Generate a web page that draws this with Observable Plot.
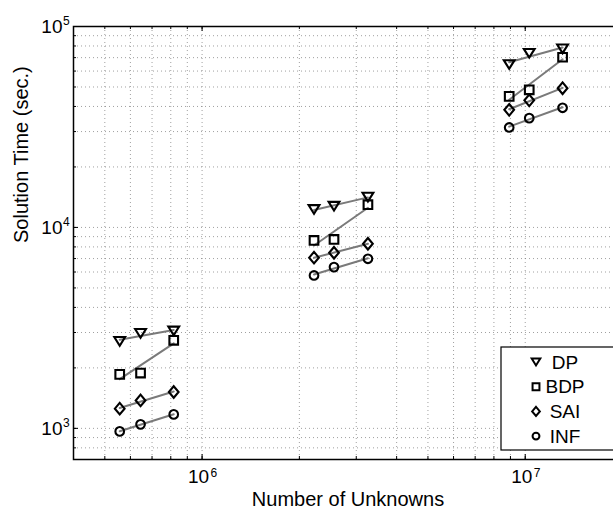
<!DOCTYPE html>
<html>
<head>
<meta charset="utf-8">
<script src="https://cdn.jsdelivr.net/npm/d3@7"></script>
<script src="https://cdn.jsdelivr.net/npm/@observablehq/plot@0.6"></script>
<style>
  html, body { margin: 0; padding: 0; background: #fff; overflow: hidden; }
  #chart svg { max-width: none !important; height: auto; display: block; }
</style>
</head>
<body>
<div id="chart"></div>
<script>
// Problem sizes (number of unknowns), three refinements per problem set
const unknowns = [5.56e5, 6.45e5, 8.17e5, 2.22e6, 2.56e6, 3.26e6, 8.92e6, 1.029e7, 1.305e7];
const problemSet = [1, 1, 1, 2, 2, 2, 3, 3, 3];

// Solution times (seconds) per preconditioner
const seriesNames = ["DP", "BDP", "SAI", "INF"];
const timeDP  = [2710, 2970, 3055, 12290, 12760, 14160, 64700, 73600, 77400];
const timeBDP = [1857, 1884, 2742, 8616, 8714, 12970, 44900, 48400, 70300];
const timeSAI = [1253, 1377, 1517, 7070, 7484, 8296, 38500, 42900, 49300];
const timeINF = [966, 1047, 1174, 5770, 6346, 6984, 31440, 34990, 39400];

// Axis ticks
const xMajor = [1e6, 1e7];
const xMinor = [4e5, 5e5, 6e5, 7e5, 8e5, 9e5, 1e6, 2e6, 3e6, 4e6, 5e6, 6e6, 7e6, 8e6, 9e6, 1e7, 2e7];
const yMajor = [1e3, 1e4, 1e5];
const yMinor = [700, 800, 900, 1e3, 2e3, 3e3, 4e3, 5e3, 6e3, 7e3, 8e3, 9e3,
                1e4, 2e4, 3e4, 4e4, 5e4, 6e4, 7e4, 8e4, 9e4, 1e5];

const xLabel = "Number of Unknowns";
const yLabel = "Solution Time (sec.)";

// Marker shapes (r = sqrt(size / PI))
const triDown = { draw(ctx, size) { const r = Math.sqrt(size / Math.PI);
  ctx.moveTo(-r, -0.8 * r); ctx.lineTo(r, -0.8 * r); ctx.lineTo(0, 0.8 * r); ctx.closePath(); } };
const square = { draw(ctx, size) { const r = Math.sqrt(size / Math.PI) * 0.8;
  ctx.moveTo(-r, -r); ctx.lineTo(r, -r); ctx.lineTo(r, r); ctx.lineTo(-r, r); ctx.closePath(); } };
const diamond = { draw(ctx, size) { const r = Math.sqrt(size / Math.PI);
  ctx.moveTo(0, -1.07 * r); ctx.lineTo(0.9 * r, 0); ctx.lineTo(0, 1.07 * r); ctx.lineTo(-0.9 * r, 0); ctx.closePath(); } };
const circle = { draw(ctx, size) { const r = Math.sqrt(size / Math.PI) * 0.8;
  ctx.moveTo(r, 0); ctx.arc(0, 0, r, 0, 2 * Math.PI); } };
const symbols = { DP: triDown, BDP: square, SAI: diamond, INF: circle };

const seriesTimes = { DP: timeDP, BDP: timeBDP, SAI: timeSAI, INF: timeINF };
const rows = seriesNames.flatMap(s => unknowns.map((n, i) => ({
  series: s, set: problemSet[i], n, t: seriesTimes[s][i]
})));

// Power-law trend (least squares in log-log) per series and problem set,
// spanning that set's smallest to largest problem
const trends = d3.groups(rows, d => d.series, d => d.set).flatMap(([s, sets]) =>
  sets.flatMap(([set, pts]) => {
    const lx = pts.map(p => Math.log10(p.n)), ly = pts.map(p => Math.log10(p.t));
    const mx = d3.mean(lx), my = d3.mean(ly);
    const b = d3.sum(lx, (v, i) => (v - mx) * (ly[i] - my)) / d3.sum(lx, v => (v - mx) ** 2);
    const ends = d3.extent(pts, p => p.n);
    return ends.map(n => ({ key: s + set, n, t: 10 ** (my + b * (Math.log10(n) - mx)) }));
  }));

// Layout
const W = 640, H = 514, mL = 73, mR = 18, mT = 26, mB = 55;
const fw = W - mL - mR, fh = H - mT - mB;
const major = 5, minor = 3;
const font = "'Liberation Sans', Arial, Helvetica, sans-serif";

const gridStyle = { stroke: "#777", strokeWidth: 1, strokeDasharray: "1,3", strokeOpacity: 0.7 };

const svg = Plot.plot({
  width: W, height: H,
  marginLeft: mL, marginRight: mR, marginTop: mT, marginBottom: mB,
  style: { fontFamily: font, fontSize: "19px", background: "#fff", color: "#000", overflow: "visible" },
  x: { type: "log", domain: [4e5, 2e7], axis: null },
  y: { type: "log", domain: [700, 1e5], axis: null },
  marks: [
    // dotted grid
    Plot.ruleX(xMinor.slice(1, -1), { x: d => d, ...gridStyle }),
    Plot.ruleY(yMinor.slice(1, -1), { y: d => d, ...gridStyle }),
    // grey trend lines
    Plot.line(trends, { x: "n", y: "t", z: "key", stroke: "#7a7a7a", strokeWidth: 2 }),
    Plot.dot(rows, { x: "n", y: "t", symbol: d => symbols[d.series], r: 5.4,
      stroke: "#000", strokeWidth: 2.1, fill: "none" }),
    // inward tick marks, bottom/top
    Plot.tickX(xMinor, { x: d => d, insetTop: fh - minor, stroke: "#000" }),
    Plot.tickX(xMinor, { x: d => d, insetBottom: fh - minor, stroke: "#000" }),
    Plot.tickX(xMajor, { x: d => d, insetTop: fh - major, stroke: "#000" }),
    Plot.tickX(xMajor, { x: d => d, insetBottom: fh - major, stroke: "#000" }),
    // inward tick marks, left/right
    Plot.tickY(yMinor, { y: d => d, insetRight: fw - minor, stroke: "#000" }),
    Plot.tickY(yMinor, { y: d => d, insetLeft: fw - minor, stroke: "#000" }),
    Plot.tickY(yMajor, { y: d => d, insetRight: fw - major, stroke: "#000" }),
    Plot.tickY(yMajor, { y: d => d, insetLeft: fw - major, stroke: "#000" }),
    Plot.frame({ stroke: "#000", strokeWidth: 1.5 }),
    // tick labels as 10 with raised exponents
    Plot.text(xMajor, { x: d => d, frameAnchor: "bottom", dy: 23, dx: -3.5, text: () => "10", fontSize: 19 }),
    Plot.text(xMajor, { x: d => d, frameAnchor: "bottom", dy: 17, dx: 8.5, textAnchor: "start",
      text: d => String(Math.round(Math.log10(d))), fontSize: 12 }),
    Plot.text(yMajor, { y: d => d, frameAnchor: "left", dx: -11, dy: 0.5, textAnchor: "end", text: () => "10", fontSize: 19 }),
    Plot.text(yMajor, { y: d => d, frameAnchor: "left", dx: -10.5, dy: -5, textAnchor: "start",
      text: d => String(Math.round(Math.log10(d))), fontSize: 12 }),
    // axis titles
    Plot.text([xLabel], { frameAnchor: "bottom", dy: 46, text: d => d, fontSize: 20 }),
    Plot.text([yLabel], { frameAnchor: "left", dx: -52, rotate: -90, text: d => d, fontSize: 20 })
  ]
});

// Legend box in the lower right corner of the axes
const lg = d3.select(svg).append("g").attr("font-family", font).attr("font-size", 19);
const boxX = 501, boxY = 347, boxW = 116, boxH = 103, rowH = 24.7;
lg.append("rect").attr("x", boxX).attr("y", boxY).attr("width", boxW).attr("height", boxH)
  .attr("fill", "#fff").attr("stroke", "#000").attr("stroke-width", 1.2);
seriesNames.forEach((s, i) => {
  const cy = boxY + 15 + i * rowH;
  lg.append("path").attr("transform", `translate(${boxX + 35},${cy})`)
    .attr("d", d3.symbol(symbols[s], 4.3 * 4.3 * Math.PI)())
    .attr("fill", "none").attr("stroke", "#000").attr("stroke-width", 2);
  lg.append("text").attr("x", boxX + 64).attr("y", cy).attr("dy", "0.35em").text(s);
});

document.getElementById("chart").appendChild(svg);
</script>
</body>
</html>
